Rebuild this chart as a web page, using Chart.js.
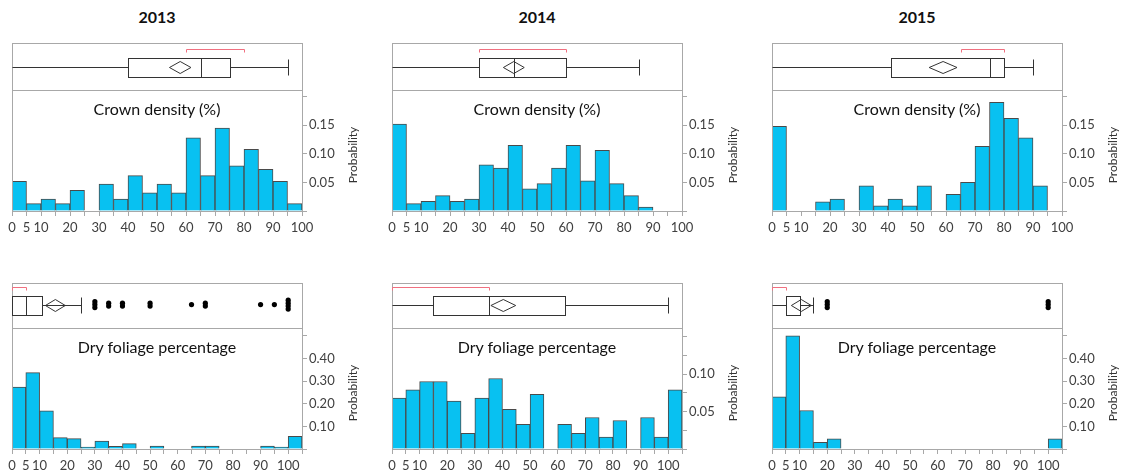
<!DOCTYPE html>
<html>
<head>
<meta charset="utf-8">
<script src="https://cdn.jsdelivr.net/npm/chart.js@4.4.1/dist/chart.umd.min.js"></script>
<style>
  html, body { margin: 0; padding: 0; background: #fff; }
  body { width: 1123px; height: 476px; position: relative; overflow: hidden; font-family: Lato, 'Open Sans', sans-serif; }
  canvas { position: absolute; }
  .year { position: absolute; width: 290px; text-align: center; font-weight: bold; font-size: 16px; line-height: 20px; color: #111; }
  .varname { position: absolute; width: 290px; text-align: center; font-size: 16px; line-height: 20px; color: #111; }
</style>
</head>
<body>
<script>
// ---- data ----
const years = ['2013', '2014', '2015'];

// histogram bins (left edges, width 5)
const crownBins = [0, 5, 10, 15, 20, 25, 30, 35, 40, 45, 50, 55, 60, 65, 70, 75, 80, 85, 90, 95];
const dryBins = [0, 5, 10, 15, 20, 25, 30, 35, 40, 45, 50, 55, 60, 65, 70, 75, 80, 85, 90, 95, 100];

// Crown density (%) probabilities
const crown2013 = [0.052, 0.013, 0.021, 0.013, 0.036, 0, 0.047, 0.021, 0.062, 0.032, 0.047, 0.032, 0.128, 0.062, 0.145, 0.079, 0.108, 0.073, 0.052, 0.013];
const crown2014 = [0.152, 0.013, 0.017, 0.027, 0.017, 0.021, 0.081, 0.075, 0.115, 0.039, 0.048, 0.075, 0.115, 0.053, 0.106, 0.048, 0.027, 0.007, 0, 0];
const crown2015 = [0.148, 0, 0, 0.016, 0.021, 0, 0.044, 0.009, 0.021, 0.009, 0.044, 0, 0.029, 0.050, 0.113, 0.190, 0.162, 0.128, 0.044, 0];

// Dry foliage percentage probabilities
const dry2013 = [0.274, 0.337, 0.169, 0.050, 0.046, 0.009, 0.035, 0.012, 0.024, 0, 0.013, 0, 0, 0.013, 0.013, 0, 0, 0, 0.013, 0.009, 0.056];
const dry2014 = [0.068, 0.079, 0.090, 0.090, 0.064, 0.021, 0.068, 0.094, 0.053, 0.033, 0.073, 0, 0.033, 0.021, 0.042, 0.016, 0.038, 0, 0.042, 0.016, 0.079];
const dry2015 = [0.23, 0.50, 0.17, 0.03, 0.045, 0, 0, 0, 0, 0, 0, 0, 0, 0, 0, 0, 0, 0, 0, 0, 0.045];

// box plots: [min, q1, median, q3, max]
const crownBox = [[0, 40, 65, 75, 95], [0, 30, 42, 60, 85], [0, 41, 75, 80, 90]];
const crownMean = [58, 42, 59];
const crownMeanCI = [3.7, 3.6, 4.8];
const crownShortest = [[60, 80], [30, 60], [65, 80]];

const dryBox = [[0, 0, 5, 11, 25], [0, 15, 35, 62.5, 100], [0, 5, 5, 10, 15]];
const dryMean = [15.7, 40.3, 10.6];
const dryMeanCI = [3.6, 4.5, 3.6];
const dryShortest = [[0, 5], [0, 35], [0, 5]];
const dryOutliers = [
  [30, 30, 30, 35, 35, 40, 40, 50, 50, 65, 70, 70, 90, 95, 100, 100, 100, 100],
  [],
  [20, 20, 20, 100, 100, 100]
];

// axis ticks
const crownXLabels = [0, 5, 10, 20, 30, 40, 50, 60, 70, 80, 90, 100];
const dryXLabels = [0, 5, 10, 20, 30, 40, 50, 60, 70, 80, 90, 100];
const crownYMax = 0.21;
const crownYLabels = [0.05, 0.10, 0.15];
const dryYMax = [0.53, 0.16, 0.53];
const dryYStep = [0.1, 0.025, 0.1];
const dryYLabels = [[0.10, 0.20, 0.30, 0.40], [0.05, 0.10], [0.10, 0.20, 0.30, 0.40]];

// ---- styling ----
const frameColor = '#a8a8a8';
const barColor = '#08c1f1';
const barEdge = '#4a4a4a';
const tickColor = '#404040';
const panelLeft = [12, 392, 772];

const boxPlotPlugin = {
  id: 'boxPlot',
  beforeDatasetsDraw(chart, args, opts) {
    const { ctx, chartArea: a, scales: { x, y } } = chart;
    const px = v => Math.round(x.getPixelForValue(v)) + 0.5;
    const cy = Math.round(y.getPixelForValue(opts.center)) + 0.5;
    const [mn, q1, med, q3, mx] = opts.five;
    ctx.save();
    ctx.lineWidth = 1;
    ctx.strokeStyle = frameColor;
    ctx.strokeRect(a.left + 0.5, a.top + 0.5, a.right - a.left, a.bottom - a.top - 1);

    ctx.strokeStyle = '#333';
    ctx.beginPath();
    if (q1 > mn) { ctx.moveTo(px(mn), cy); ctx.lineTo(px(q1), cy); }
    ctx.moveTo(px(q3), cy); ctx.lineTo(px(mx), cy);
    ctx.moveTo(px(mx), cy - 8); ctx.lineTo(px(mx), cy + 8);
    ctx.stroke();
    ctx.strokeRect(px(q1), cy - 9, px(q3) - px(q1), 19);
    ctx.beginPath();
    ctx.moveTo(px(med), cy - 9); ctx.lineTo(px(med), cy + 10);
    ctx.stroke();

    // mean diamond
    const ml = x.getPixelForValue(opts.mean - opts.ci);
    const mr = x.getPixelForValue(opts.mean + opts.ci);
    const mc = x.getPixelForValue(opts.mean);
    ctx.beginPath();
    ctx.moveTo(ml, cy); ctx.lineTo(mc, cy - 6); ctx.lineTo(mr, cy); ctx.lineTo(mc, cy + 6);
    ctx.closePath();
    ctx.stroke();

    // shortest half bracket
    const by = Math.round(y.getPixelForValue(opts.bracket)) + 0.5;
    ctx.strokeStyle = '#f07080';
    ctx.beginPath();
    ctx.moveTo(px(opts.shortest[0]), by + 3); ctx.lineTo(px(opts.shortest[0]), by);
    ctx.lineTo(px(opts.shortest[1]), by); ctx.lineTo(px(opts.shortest[1]), by + 3);
    ctx.stroke();
    ctx.restore();
  }
};

const histFramePlugin = {
  id: 'histFrame',
  afterDraw(chart, args, opts) {
    const { ctx, chartArea: a } = chart;
    ctx.save();
    ctx.strokeStyle = frameColor;
    ctx.lineWidth = 1;
    ctx.beginPath();
    ctx.moveTo(a.left + 0.5, a.top); ctx.lineTo(a.left + 0.5, a.bottom);
    ctx.stroke();
    ctx.translate(a.right + 51, (a.top + a.bottom) / 2 + 4);
    ctx.rotate(-Math.PI / 2);
    ctx.font = '12px Lato';
    ctx.fillStyle = '#333';
    ctx.textAlign = 'center';
    ctx.textBaseline = 'middle';
    ctx.fillText('Probability', 0, 0);
    ctx.restore();
  }
};

function addCanvas(left, top, w, h) {
  const c = document.createElement('canvas');
  c.style.left = left + 'px';
  c.style.top = top + 'px';
  c.style.width = w + 'px';
  c.style.height = h + 'px';
  c.width = w;
  c.height = h;
  document.body.appendChild(c);
  return c;
}

function addText(cls, text, left, top) {
  const d = document.createElement('div');
  d.className = cls;
  d.textContent = text;
  d.style.left = left + 'px';
  d.style.top = top + 'px';
  document.body.appendChild(d);
}

// stack tied outliers vertically
function stackOutliers(values, center) {
  const counts = {};
  const seen = {};
  values.forEach(v => { counts[v] = (counts[v] || 0) + 1; });
  return values.map(v => {
    seen[v] = seen[v] === undefined ? 0 : seen[v] + 1;
    return { x: v, y: center + (seen[v] - (counts[v] - 1) / 2) * 0.065 };
  });
}

function drawBox(left, top, height, xMax, cfg, outliers) {
  const canvas = addCanvas(left, top, 291, height);
  new Chart(canvas, {
    type: 'scatter',
    data: {
      datasets: [{
        data: stackOutliers(outliers, cfg.center),
        pointRadius: 2.6,
        pointBackgroundColor: '#000',
        pointBorderWidth: 0
      }]
    },
    options: {
      responsive: false,
      animation: false,
      layout: { autoPadding: false, padding: { left: 0, top: 0, right: 1, bottom: 0 } },
      scales: {
        x: { type: 'linear', min: 0, max: xMax, display: false },
        y: { type: 'linear', min: 0, max: 1, display: false }
      },
      plugins: { legend: { display: false }, tooltip: { enabled: false }, boxPlot: cfg }
    },
    plugins: [boxPlotPlugin]
  });
}

function drawHist(left, top, bins, values, xMax, xLabels, yMax, yStep, yLabels) {
  const canvas = addCanvas(left - 10, top - 10, 375, 160);
  const font = { family: 'Lato', size: 13 };
  const hasBar = c => c.raw && c.raw.y > 0;
  new Chart(canvas, {
    type: 'bar',
    data: {
      datasets: [{
        data: bins.map((b, i) => ({ x: b + 2.5, y: values[i] })),
        backgroundColor: c => (hasBar(c) ? barColor : 'rgba(0,0,0,0)'),
        borderColor: barEdge,
        borderWidth: c => (hasBar(c) ? 1 : 0),
        barPercentage: 1,
        categoryPercentage: 1
      }]
    },
    options: {
      responsive: false,
      animation: false,
      layout: { padding: { left: 10, top: 10, right: 0, bottom: 0 } },
      scales: {
        x: {
          type: 'linear', min: 0, max: xMax, offset: false,
          grid: { offset: false, drawOnChartArea: false, tickLength: 5, color: frameColor },
          border: { color: frameColor },
          ticks: {
            stepSize: 5, autoSkip: false, maxRotation: 0, padding: 4, font, color: tickColor,
            callback: v => (xLabels.includes(Math.round(v)) ? String(Math.round(v)) : '')
          },
          afterFit: s => { s.height = 30; }
        },
        y: {
          type: 'linear', position: 'right', min: 0, max: yMax,
          grid: { drawOnChartArea: false, tickLength: 5, color: frameColor },
          border: { color: frameColor },
          ticks: {
            stepSize: yStep, includeBounds: false, padding: 2, font, color: tickColor,
            callback: v => (yLabels.some(l => Math.abs(l - v) < 1e-6) ? v.toFixed(2) : '')
          },
          afterFit: s => { s.width = 75; }
        }
      },
      plugins: { legend: { display: false }, tooltip: { enabled: false } }
    },
    plugins: [histFramePlugin]
  });
}

const crownData = [crown2013, crown2014, crown2015];
const dryData = [dry2013, dry2014, dry2015];

years.forEach((yr, i) => {
  const L = panelLeft[i];
  addText('year', yr, L, 7);

  // top row: crown density
  drawBox(L, 43, 48, 100, {
    five: crownBox[i], mean: crownMean[i], ci: crownMeanCI[i],
    shortest: crownShortest[i], center: 0.5, bracket: 0.875
  }, []);
  drawHist(L, 91, crownBins, crownData[i], 100, crownXLabels, crownYMax, 0.025, crownYLabels);
  addText('varname', 'Crown density (%)', L, 99);

  // bottom row: dry foliage
  drawBox(L, 283, 46, 105, {
    five: dryBox[i], mean: dryMean[i], ci: dryMeanCI[i],
    shortest: dryShortest[i], center: 0.53, bracket: 0.92
  }, dryOutliers[i]);
  drawHist(L, 329, dryBins, dryData[i], 105, dryXLabels, dryYMax[i], dryYStep[i], dryYLabels[i]);
  addText('varname', 'Dry foliage percentage', L, 337);
});
</script>
</body>
</html>
